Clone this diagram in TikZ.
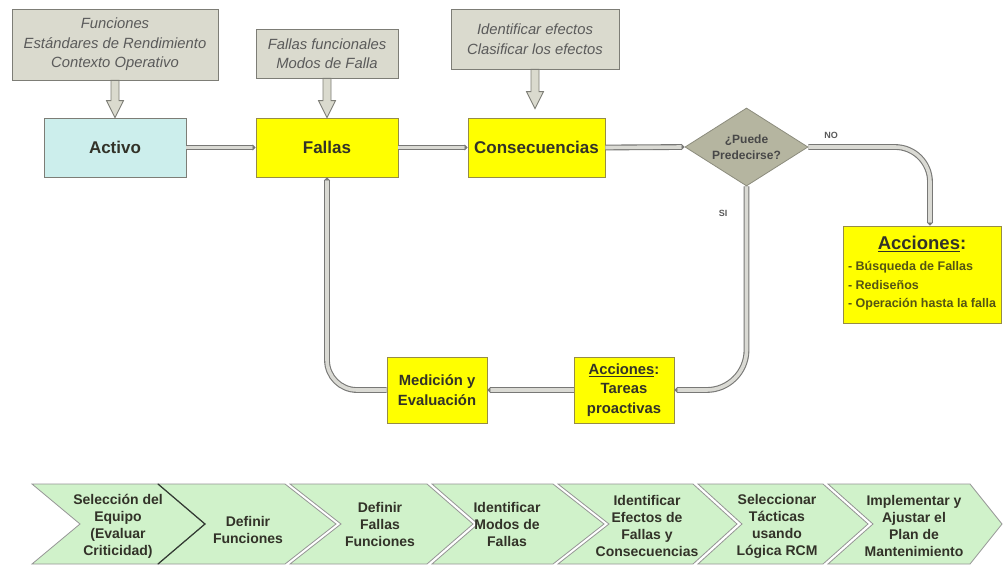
\documentclass[tikz,border=0pt]{standalone}
\usepackage{fontspec}
\setmainfont{Liberation Sans}
\usetikzlibrary{calc,arrows.meta,shapes.geometric}
\definecolor{boxgray}{RGB}{218,218,206}
\definecolor{boxedge}{RGB}{125,125,118}
\definecolor{graytext}{RGB}{90,90,90}
\definecolor{activo}{RGB}{204,238,236}
\definecolor{yell}{RGB}{255,255,0}
\definecolor{yelledge}{RGB}{150,140,70}
\definecolor{maintext}{RGB}{50,50,40}
\definecolor{olivetext}{RGB}{85,85,20}
\definecolor{diafill}{RGB}{181,181,160}
\definecolor{diaedge}{RGB}{140,140,125}
\definecolor{connout}{RGB}{120,120,118}
\definecolor{connin}{RGB}{218,218,212}
\definecolor{chevfill}{RGB}{208,242,202}
\definecolor{chevedge}{RGB}{150,150,150}
\definecolor{chevdark}{RGB}{50,60,50}
\newcommand\mkblockarrow[2]{\draw[blockarr] ($(#1)+(-4,0)$) -- ($(#2)+(-4,-17)$) -- ($(#2)+(-8.5,-17)$) -- (#2) -- ($(#2)+(8.5,-17)$) -- ($(#2)+(4,-17)$) -- ($(#1)+(4,0)$) -- cycle;}
\newcommand\mkchev[4]{\filldraw[chev] (#1,484) -- (#3,484) -- (#4,524) -- (#3,564) -- (#1,564) -- (#2,524) -- cycle;}
\newcommand\accitem[1]{{\fontsize{12.5}{15}\selectfont\color{olivetext}#1}}
\begin{document}
\begin{tikzpicture}[x=1pt,y=-1pt,
  graybox/.style={draw=boxedge, fill=boxgray, line width=0.8pt, inner sep=0pt, font=\itshape\fontsize{14.8}{19.5}\selectfont, text=graytext, align=center},
  mainbox/.style={draw=yelledge, fill=yell, line width=0.8pt, inner sep=0pt, font=\bfseries\fontsize{17}{20}\selectfont, text=maintext, align=center},
  smallbox/.style={mainbox, font=\bfseries\fontsize{14.8}{19.5}\selectfont},
  conn/.style={draw=connout, line width=1.1pt, double=connin, double distance=3.6pt},
  connarr/.style={conn, -{Triangle[length=3pt,width=6pt]}},
  blockarr/.style={draw=boxedge, fill=boxgray, line width=0.9pt, line join=miter},
  chev/.style={fill=chevfill, draw=chevedge, line width=0.8pt, line join=miter},
  chevtext/.style={font=\bfseries\fontsize{14}{17}\selectfont, text=maintext, align=center, inner sep=0pt},
  lbl/.style={font=\bfseries\fontsize{9}{10}\selectfont, text=graytext, inner sep=0pt}
]
\useasboundingbox (0,0) rectangle (1003,567);
\fill[white] (0,0) rectangle (1003,567);

% top gray boxes
\node[graybox, minimum width=206, minimum height=71] (f1) at (115,44.5) {Funciones\\Estándares de Rendimiento\\Contexto Operativo};
\node[graybox, minimum width=142, minimum height=49] (f2) at (327,53.5) {Fallas funcionales\\Modos de Falla};
\node[graybox, minimum width=168, minimum height=60] (f3) at (535,39) {Identificar efectos\\Clasificar los efectos};

% main row
\node[mainbox, fill=activo, draw=boxedge, minimum width=142, minimum height=59] (act) at (115,147.5) {Activo};
\node[mainbox, minimum width=142, minimum height=59] (fal) at (327,147.5) {Fallas};
\node[mainbox, minimum width=137, minimum height=59] (con) at (536.5,147.5) {Consecuencias};
\node[diamond, draw=diaedge, fill=diafill, line width=0.8pt, inner sep=0pt, minimum width=123, minimum height=78, aspect=1.58, font=\bfseries\fontsize{12}{16}\selectfont, text=graytext!80!black, align=center] (dia) at (746.5,147) {¿Puede\\Predecirse?};

\node[mainbox, minimum width=158, minimum height=97] (acc) at (922,274.5) {\begin{tabular}{@{}l@{}}\multicolumn{1}{@{}c@{}}{\fontsize{18.5}{20}\selectfont\underline{Acciones}:}\\[1pt]\accitem{- Búsqueda de Fallas}\\[-1pt]\accitem{- Rediseños}\\[-2pt]\accitem{- Operación hasta la falla}\end{tabular}};

\node[smallbox, minimum width=100, minimum height=66] (med) at (437,390) {Medición y\\Evaluación};
\node[smallbox, minimum width=100, minimum height=66] (tar) at (624,390) {\underline{Acciones}:\\Tareas\\proactivas};

% block arrows
\coordinate (t3) at ($(f3.south |- con.north)+(0,-9)$);
\mkblockarrow{f1.south}{act.north}
\mkblockarrow{f2.south}{fal.north}
\mkblockarrow{f3.south}{t3}

% connectors
\draw[connarr] (act.east) -- (fal.west);
\draw[connarr] (fal.east) -- (con.west);
\draw[connarr] (con.east) -- (dia.west);
\draw[connarr, rounded corners=35pt] (dia.east) -| ([xshift=8pt]acc.north);
\draw[connarr, rounded corners=40pt] (dia.south) |- (tar.east);
\draw[connarr] (tar.west) -- (med.east);
\draw[connarr, rounded corners=30pt] (med.west) -| (fal.south);

\node[lbl] (no) at (831,135) {NO};
\node[lbl] (si) at (723,213) {SI};

% chevron bar
\mkchev{32}{80}{158}{205}
\mkchev{158}{205}{285}{336}
\mkchev{290}{341}{427}{473}
\mkchev{432}{478}{553}{604}
\mkchev{558}{609}{693}{737}
\mkchev{698}{742}{823}{868}
\mkchev{828}{873}{970}{1002}
\draw[chevdark, line width=1.2pt] (158,484) -- (205,524) -- (158,564);

\node[chevtext] (c1) at (118,526) {Selección del\\Equipo\\(Evaluar\\Criticidad)};
\node[chevtext] (c2) at (248,530) {Definir\\Funciones};
\node[chevtext] (c3) at (380,524) {Definir\\Fallas\\Funciones};
\node[chevtext] (c4) at (507,524) {Identificar\\Modos de\\Fallas};
\node[chevtext] (c5) at (647,526) {Identificar\\Efectos de\\Fallas y\\Consecuencias};
\node[chevtext] (c6) at (777,526) {Seleccionar\\Tácticas\\usando\\Lógica RCM};
\node[chevtext] (c7) at (914,526) {Implementar y\\Ajustar el\\Plan de\\Mantenimiento};
\end{tikzpicture}
\end{document}
